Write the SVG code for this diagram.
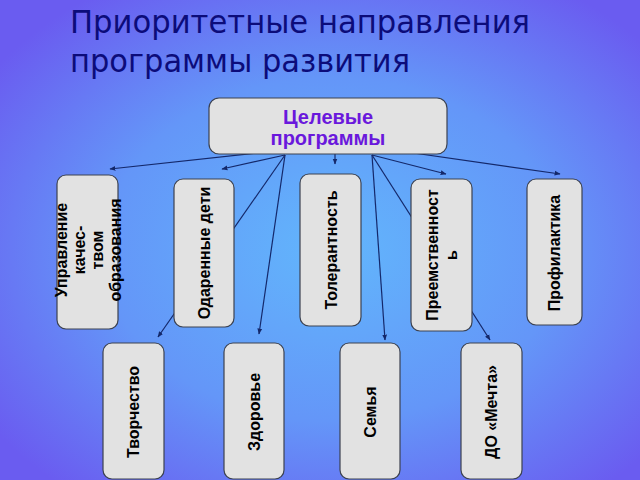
<svg xmlns="http://www.w3.org/2000/svg" width="640" height="480" viewBox="0 0 640 480">
<defs>
<radialGradient id="bg" cx="52%" cy="52%" r="65%">
<stop offset="0" stop-color="#62b6fc"/>
<stop offset="0.55" stop-color="#6496f8"/>
<stop offset="1" stop-color="#6a5cf0"/>
</radialGradient>
<marker id="ah" viewBox="0 0 10 10" refX="9" refY="5" markerWidth="6" markerHeight="6" orient="auto" markerUnits="userSpaceOnUse">
<path d="M0,1 L10,5 L0,9 z" fill="#14286a"/>
</marker>
<style>
.box{fill:#e2e2e2;stroke:#3c4250;stroke-width:1.2}
.vt{font-family:"Liberation Sans",Arial,sans-serif;font-weight:bold;font-size:16px;fill:#000;text-anchor:middle;dominant-baseline:central}
.c{stroke:#14286a;stroke-width:1.2;fill:none}
.ca{stroke:#14286a;stroke-width:1.2;fill:none;marker-end:url(#ah)}
.ttl{font-family:"DejaVu Sans","Liberation Sans",sans-serif;font-size:32px;fill:#0c0c7a}
.top{font-family:"Liberation Sans",Arial,sans-serif;font-weight:bold;font-size:20px;fill:#6a18dc;text-anchor:middle}
</style>
</defs>
<rect width="640" height="480" fill="url(#bg)"/>
<g id="title">
<text class="ttl" x="70" y="33" textLength="460" lengthAdjust="spacingAndGlyphs">Приоритетные направления</text>
<text class="ttl" x="70" y="72" textLength="340" lengthAdjust="spacingAndGlyphs">программы развития</text>
</g>
<g id="connectors">
<line class="ca" x1="285" y1="150" x2="110" y2="169"/>
<line class="ca" x1="285" y1="155" x2="222" y2="169"/>
<line class="ca" x1="285" y1="155" x2="158" y2="337"/>
<line class="ca" x1="285" y1="155" x2="259" y2="334"/>
<line class="ca" x1="335" y1="152" x2="335" y2="164"/>
<line class="ca" x1="372" y1="155" x2="385" y2="340"/>
<line class="ca" x1="372" y1="155" x2="490" y2="340"/>
<line class="ca" x1="372" y1="155" x2="446" y2="174"/>
<line class="ca" x1="372" y1="147" x2="560" y2="174"/>
</g>
<g id="n-top">
<rect class="box" x="209" y="98" width="238" height="56" rx="10"/>
<text class="top" x="328" y="124">Целевые</text>
<text class="top" x="328" y="145">программы</text>
</g>
<g id="n-upr">
<rect class="box" x="57" y="175" width="61" height="154" rx="9"/>
<text class="vt" transform="translate(88,250) rotate(-90)"><tspan x="0" y="-27">Управление</tspan><tspan x="0" y="-9">качес-</tspan><tspan x="0" y="9">твом</tspan><tspan x="0" y="27">образования</tspan></text>
</g>
<g id="n-odar">
<rect class="box" x="174" y="179" width="60" height="148" rx="9"/>
<text class="vt" transform="translate(204,253) rotate(-90)">Одаренные дети</text>
</g>
<g id="n-tol">
<rect class="box" x="300" y="174" width="61" height="152" rx="9"/>
<text class="vt" transform="translate(331,250) rotate(-90)">Толерантность</text>
</g>
<g id="n-preem">
<rect class="box" x="411" y="179" width="61" height="152" rx="9"/>
<text class="vt" transform="translate(441,255) rotate(-90)"><tspan x="0" y="-9">Преемственност</tspan><tspan x="0" y="10">ь</tspan></text>
</g>
<g id="n-prof">
<rect class="box" x="527" y="179" width="55" height="146" rx="9"/>
<text class="vt" transform="translate(554,253) rotate(-90)">Профилактика</text>
</g>
<g id="n-tvor">
<rect class="box" x="103" y="343" width="61" height="136" rx="9"/>
<text class="vt" transform="translate(133,412) rotate(-90)">Творчество</text>
</g>
<g id="n-zdor">
<rect class="box" x="224" y="343" width="60" height="136" rx="9"/>
<text class="vt" transform="translate(254,412) rotate(-90)">Здоровье</text>
</g>
<g id="n-sem">
<rect class="box" x="340" y="343" width="60" height="136" rx="9"/>
<text class="vt" transform="translate(370,412) rotate(-90)">Семья</text>
</g>
<g id="n-do">
<rect class="box" x="461" y="343" width="61" height="136" rx="9"/>
<text class="vt" transform="translate(491,412) rotate(-90)">ДО «Мечта»</text>
</g>
</svg>
